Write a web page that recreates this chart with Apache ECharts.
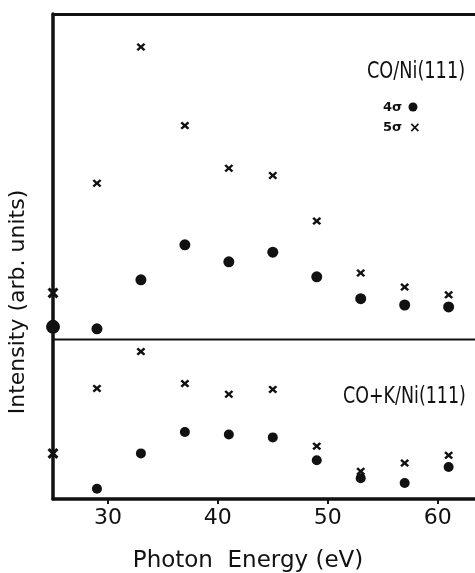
<!DOCTYPE html>
<html>
<head>
<meta charset="utf-8">
<script src="https://cdn.jsdelivr.net/npm/echarts@6/dist/echarts.min.js"></script>
<style>
  html, body { margin: 0; padding: 0; background: #fff; }
  #chart { width: 475px; height: 573px; }
</style>
</head>
<body>
<div id="chart"></div>
<script>
// photon energies (eV)
var energies = [25, 29, 33, 37, 41, 45, 49, 53, 57, 61];
var energiesK = [29, 33, 37, 41, 45, 49, 53, 57, 61];
var xTicks = [30, 40, 50, 60];

// CO/Ni(111) - upper panel (arb. units)
var clean4s = [35.5, 35.1, 45.2, 52.4, 48.9, 50.9, 45.8, 41.3, 40.0, 39.6];
var clean5s = [42.5, 65.1, 93.2, 77.0, 68.2, 66.7, 57.3, 46.6, 43.7, 42.1];

// CO+K/Ni(111) - lower panel
var potass4s = [2.1, 9.4, 13.8, 13.3, 12.7, 8.0, 4.3, 3.3, 6.6];
var potass5s = [9.4, 22.8, 30.4, 23.8, 21.6, 22.6, 10.9, 5.7, 7.4, 9.0];

var dividerLevel = 32.9;

var FONT = '"DejaVu Sans", sans-serif';
// filled "x" so it reads like the thick printed crosses
var crossPath = 'path://M0,2 L2,0 L5,3 L8,0 L10,2 L7,5 L10,8 L8,10 L5,7 L2,10 L0,8 L3,5 Z';

function pairs(xs, ys) {
  return xs.map(function (x, i) { return [x, ys[i]]; });
}

var chart = echarts.init(document.getElementById('chart'));

var dotStyle = { color: '#111', opacity: 1 };

var option = {
  backgroundColor: '#fff',
  animation: false,
  grid: { left: 53, right: 0, top: 14, bottom: 74 },
  xAxis: [{
    type: 'value',
    min: 25,
    max: 63.4,
    axisLine: { show: true, lineStyle: { color: '#111', width: 3.5 } },
    axisTick: { show: true, length: 5, customValues: xTicks, lineStyle: { color: '#111', width: 2 } },
    axisLabel: { customValues: xTicks, color: '#111', fontFamily: FONT, fontSize: 22, margin: 8 },
    splitLine: { show: false }
  }, {
    type: 'value',
    position: 'top',
    min: 25,
    max: 63.4,
    axisLine: { show: true, lineStyle: { color: '#111', width: 3 } },
    axisTick: { show: false },
    axisLabel: { show: false },
    splitLine: { show: false }
  }],
  yAxis: {
    type: 'value',
    min: 0,
    max: 100,
    axisLine: { show: true, lineStyle: { color: '#111', width: 3.5 } },
    axisTick: { show: false },
    axisLabel: { show: false },
    splitLine: { show: false }
  },
  series: [
    {
      name: 'divider',
      type: 'line',
      clip: false,
      symbol: 'none',
      silent: true,
      lineStyle: { color: '#111', width: 2 },
      data: [[24.3, dividerLevel], [63.4, dividerLevel]]
    },
    {
      name: 'CO 4σ',
      type: 'scatter',
      clip: false,
      symbol: 'circle',
      symbolSize: function (v) { return v[0] === 25 ? 14 : 11; },
      itemStyle: dotStyle,
      data: pairs(energies, clean4s)
    },
    {
      name: 'CO 5σ',
      type: 'scatter',
      clip: false,
      symbol: crossPath,
      symbolSize: function (v) { return v[0] === 25 ? [11, 11] : [9, 8]; },
      itemStyle: dotStyle,
      data: pairs(energies, clean5s)
    },
    {
      name: 'CO+K 4σ',
      type: 'scatter',
      clip: false,
      symbol: 'circle',
      symbolSize: 10,
      itemStyle: dotStyle,
      data: pairs(energiesK, potass4s)
    },
    {
      name: 'CO+K 5σ',
      type: 'scatter',
      clip: false,
      symbol: crossPath,
      symbolSize: function (v) { return v[0] === 25 ? [11, 11] : [9, 8]; },
      itemStyle: dotStyle,
      data: pairs(energies, potass5s)
    }
  ],
  graphic: [
    {
      type: 'text', x: 367, y: 72, scaleX: 0.77,
      style: { text: 'CO/Ni(111)', font: '23px ' + FONT, fill: '#111', align: 'left', verticalAlign: 'middle' }
    },
    {
      type: 'text', x: 383, y: 108,
      style: { text: '4σ', font: 'bold 13px ' + FONT, fill: '#111', verticalAlign: 'middle' }
    },
    {
      type: 'circle', shape: { cx: 413, cy: 107, r: 4.5 }, style: { fill: '#111' }
    },
    {
      type: 'text', x: 383, y: 128,
      style: { text: '5σ', font: 'bold 13px ' + FONT, fill: '#111', verticalAlign: 'middle' }
    },
    {
      type: 'text', x: 409, y: 128,
      style: { text: '×', font: 'bold 14px ' + FONT, fill: '#111', verticalAlign: 'middle' }
    },
    {
      type: 'text', x: 343, y: 397, scaleX: 0.76,
      style: { text: 'CO+K/Ni(111)', font: '23px ' + FONT, fill: '#111', align: 'left', verticalAlign: 'middle' }
    },
    {
      type: 'text', x: 248, y: 561,
      style: {
        text: 'Photon  Energy (eV)', font: '23px ' + FONT,
        fill: '#111', align: 'center', verticalAlign: 'middle'
      }
    },
    {
      type: 'text', x: 18, y: 302, rotation: Math.PI / 2,
      style: {
        text: 'Intensity (arb. units)', font: '22px ' + FONT,
        fill: '#111', align: 'center', verticalAlign: 'middle'
      }
    }
  ]
};

chart.setOption(option);
</script>
</body>
</html>
